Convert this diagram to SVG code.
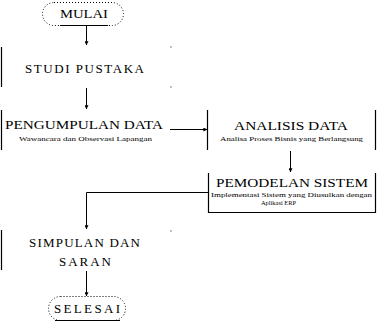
<svg xmlns="http://www.w3.org/2000/svg" width="377" height="322" viewBox="0 0 377 322">
  <style>
    .title { font-family: 'Liberation Serif', 'DejaVu Serif', serif; font-size: 13px; fill: #000; }
    .sub { font-family: 'Liberation Serif', 'DejaVu Serif', serif; font-size: 7px; fill: #000; }
    .edge { stroke: #000; stroke-width: 1.2; fill: none; }
    .term { stroke: #000; stroke-width: 1; stroke-dasharray: 1 2; fill: none; }
    .wire { stroke: #000; stroke-width: 1; fill: none; }
    .dot { fill: #000; }
  </style>
  <defs>
    <marker id="head" viewBox="0 0 6 6" refX="5.5" refY="3" markerWidth="4" markerHeight="4" orient="auto" markerUnits="userSpaceOnUse">
      <path d="M0,0 L6,3 L0,6 Z" fill="#000"/>
    </marker>
  </defs>
  <rect width="377" height="322" fill="#fff"/>

  <!-- start terminator -->
  <g id="mulai">
    <rect class="term" x="42.5" y="2.5" width="81" height="23" rx="11.5"/>
    <line class="wire" x1="60" y1="25.5" x2="108" y2="25.5"/>
    <text class="title" x="60" y="17.5" textLength="48" lengthAdjust="spacingAndGlyphs">MULAI</text>
  </g>

  <!-- literature study -->
  <g id="studi-pustaka">
    <line class="edge" x1="1.5" y1="47" x2="1.5" y2="87"/>
    <rect class="dot" x="170.5" y="46.5" width="1" height="1"/>
    <rect class="dot" x="170.5" y="86.5" width="1" height="1"/>
    <text class="title" x="25" y="72.7" textLength="119" lengthAdjust="spacing">STUDI PUSTAKA</text>
  </g>

  <!-- data collection -->
  <g id="pengumpulan-data">
    <line class="edge" x1="1.5" y1="110" x2="1.5" y2="150"/>
    <text class="title" x="5" y="129.3" textLength="158" lengthAdjust="spacingAndGlyphs">PENGUMPULAN DATA</text>
    <text class="sub" x="19" y="140.5" textLength="133" lengthAdjust="spacingAndGlyphs">Wawancara dan Observasi Lapangan</text>
  </g>

  <!-- data analysis -->
  <g id="analisis-data">
    <line class="edge" x1="207.5" y1="110" x2="207.5" y2="150"/>
    <line class="edge" x1="375.5" y1="110" x2="375.5" y2="150"/>
    <text class="title" x="234" y="130.3" textLength="114" lengthAdjust="spacingAndGlyphs">ANALISIS DATA</text>
    <text class="sub" x="220" y="140.5" textLength="143" lengthAdjust="spacingAndGlyphs">Analisa Proses Bisnis yang Berlangsung</text>
  </g>

  <!-- system modelling -->
  <g id="pemodelan-sistem">
    <path class="edge" d="M208.5,173 V212.5 H375.5 V173"/>
    <text class="title" x="216" y="186.7" textLength="152" lengthAdjust="spacingAndGlyphs">PEMODELAN SISTEM</text>
    <text class="sub" x="211" y="196.5" textLength="161" lengthAdjust="spacingAndGlyphs">Implementasi Sistem yang Diusulkan dengan</text>
    <text class="sub" x="261" y="205" textLength="35" lengthAdjust="spacingAndGlyphs">Aplikasi ERP</text>
  </g>

  <!-- conclusions -->
  <g id="simpulan-saran">
    <line class="edge" x1="1.5" y1="230" x2="1.5" y2="270"/>
    <rect class="dot" x="170.5" y="230.5" width="1" height="1"/>
    <text class="title" x="29" y="247.3" textLength="111" lengthAdjust="spacing">SIMPULAN DAN</text>
    <text class="title" x="59" y="266" textLength="52" lengthAdjust="spacing">SARAN</text>
  </g>

  <!-- end terminator -->
  <g id="selesai">
    <rect class="term" x="48.5" y="296.5" width="77" height="24" rx="12"/>
    <line class="wire" x1="55" y1="320.5" x2="120" y2="320.5"/>
    <text class="title" x="54" y="312.7" textLength="66" lengthAdjust="spacing">SELESAI</text>
  </g>

  <!-- connectors -->
  <g id="connectors">
    <line class="wire" x1="86.5" y1="26" x2="86.5" y2="45" marker-end="url(#head)"/>
    <line class="wire" x1="86.5" y1="88" x2="86.5" y2="109" marker-end="url(#head)"/>
    <line class="wire" x1="170" y1="129.5" x2="207" y2="129.5" marker-end="url(#head)"/>
    <line class="wire" x1="290.5" y1="151" x2="290.5" y2="172" marker-end="url(#head)"/>
    <path class="wire" d="M208,192.5 H86.5 V229" marker-end="url(#head)"/>
    <line class="wire" x1="86.5" y1="271" x2="86.5" y2="296" marker-end="url(#head)"/>
  </g>
</svg>
